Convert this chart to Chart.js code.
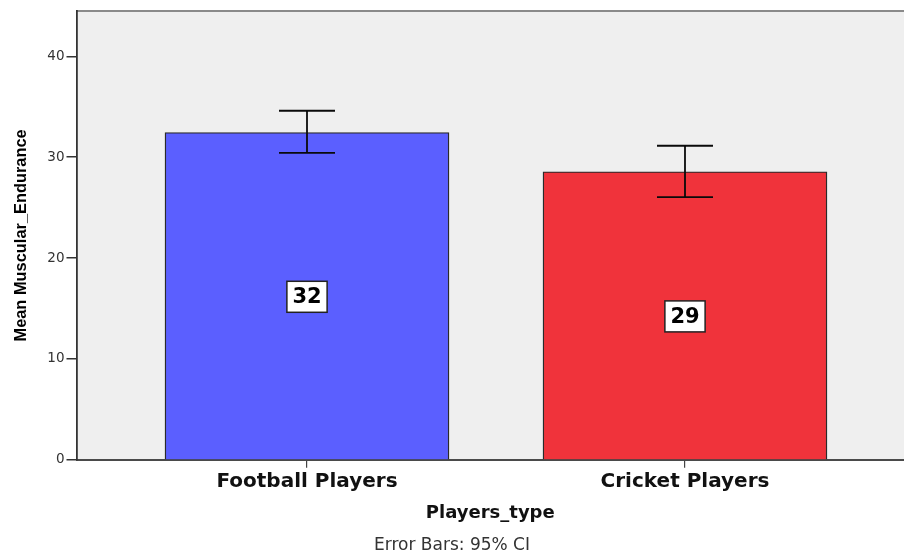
<!DOCTYPE html>
<html>
<head>
<meta charset="utf-8">
<script src="https://cdn.jsdelivr.net/npm/chart.js@4.4.1/dist/chart.umd.min.js"></script>
<style>
  html, body { margin: 0; padding: 0; background: #ffffff; overflow: hidden; }
  #wrap { width: 904px; height: 551px; }
</style>
</head>
<body>
<div id="wrap"><canvas id="c" width="904" height="551"></canvas></div>
<script>
// ---- data ----
const categories = ['Football Players', 'Cricket Players'];
const meanValues = [32.45, 28.56];
const ciLower = [30.44, 26.05];
const ciUpper = [34.61, 31.14];
const barColors = ['#5b5fff', '#f0333b'];
const yTicks = [0, 10, 20, 30, 40];
const yTitle = 'Mean Muscular_Endurance';
const xTitle = 'Players_type';
const footnote = 'Error Bars: 95% CI';

const points = meanValues.map((v, i) => ({ x: i + 1, y: v }));

const plotBg = {
  id: 'plotBg',
  beforeDraw(chart) {
    const { ctx, chartArea: a } = chart;
    ctx.save();
    ctx.fillStyle = '#efefef';
    ctx.fillRect(a.left, a.top, a.right - a.left, a.bottom - a.top);
    ctx.strokeStyle = '#8a8a8a';
    ctx.lineWidth = 2;
    ctx.beginPath();
    ctx.moveTo(a.left, a.top);
    ctx.lineTo(a.right, a.top);
    ctx.stroke();
    ctx.restore();
  }
};

const errorBars = {
  id: 'errorBars',
  afterDatasetsDraw(chart) {
    const { ctx } = chart;
    const ys = chart.scales.y;
    const meta = chart.getDatasetMeta(0);
    ctx.save();
    ctx.strokeStyle = '#0a0a0a';
    ctx.lineWidth = 1.8;
    meta.data.forEach((bar, i) => {
      const x = bar.x;
      const yl = ys.getPixelForValue(ciLower[i]);
      const yu = ys.getPixelForValue(ciUpper[i]);
      const half = 28;
      ctx.beginPath();
      ctx.moveTo(x, yl); ctx.lineTo(x, yu);
      ctx.moveTo(x - half, yl); ctx.lineTo(x + half, yl);
      ctx.moveTo(x - half, yu); ctx.lineTo(x + half, yu);
      ctx.stroke();
    });
    // value labels
    ctx.font = 'bold 21px "DejaVu Sans"';
    ctx.textAlign = 'center';
    ctx.textBaseline = 'middle';
    meta.data.forEach((bar, i) => {
      const txt = String(Math.round(meanValues[i]));
      const cy = (bar.y + bar.base) / 2 + 1;
      const w = ctx.measureText(txt).width + 11;
      const h = 31;
      ctx.fillStyle = '#ffffff';
      ctx.fillRect(bar.x - w / 2, cy - h / 2, w, h);
      ctx.strokeStyle = '#222222';
      ctx.lineWidth = 1.5;
      ctx.strokeRect(bar.x - w / 2, cy - h / 2, w, h);
      ctx.fillStyle = '#000000';
      ctx.fillText(txt, bar.x, cy + 1);
    });
    ctx.restore();
  }
};

new Chart(document.getElementById('c'), {
  type: 'bar',
  data: {
    datasets: [{
      data: points,
      backgroundColor: barColors,
      borderColor: '#2a2a2a',
      borderWidth: 1.4,
      barThickness: 284
    }]
  },
  options: {
    responsive: false,
    devicePixelRatio: 1,
    animation: false,
    layout: { padding: { top: 11, right: 0, left: 0, bottom: 0 } },
    plugins: {
      legend: { display: false },
      tooltip: { enabled: false },
      title: {
        display: true,
        position: 'bottom',
        text: footnote,
        color: '#333333',
        font: { family: '"DejaVu Sans"', size: 17, weight: 'normal', lineHeight: 0.6 },
        padding: { top: 0, bottom: 0 }
      }
    },
    scales: {
      x: {
        type: 'linear',
        min: 0.3902,
        max: 2.5794,
        offset: false,
        afterBuildTicks: (s) => { s.ticks = categories.map((c, i) => ({ value: i + 1 })); },
        afterFit: (s) => { s.height = 81; },
        grid: { offset: false, drawOnChartArea: false, drawTicks: true, tickLength: 8, color: '#444444', lineWidth: 1.2 },
        border: { display: true, color: '#4a4a4a', width: 2 },
        ticks: {
          autoSkip: false, maxRotation: 0, minRotation: 0, padding: 2,
          color: '#111111',
          font: { family: '"DejaVu Sans"', size: 20, weight: 'bold' },
          callback: (v) => categories[v - 1] || ''
        },
        title: {
          display: true, text: xTitle, color: '#111111',
          font: { family: '"DejaVu Sans"', size: 18, weight: 'bold' },
          padding: { top: 0, bottom: 17 }
        }
      },
      y: {
        min: 0,
        max: 44.5,
        afterBuildTicks: (s) => { s.ticks = yTicks.map(v => ({ value: v })); },
        afterFit: (s) => { s.width = 76.5; },
        grid: { drawOnChartArea: false, drawTicks: true, tickLength: 10, color: '#333333', lineWidth: 1.5 },
        border: { display: true, color: '#333333', width: 1.8 },
        ticks: {
          padding: 2, color: '#333333',
          font: { family: '"DejaVu Sans"', size: 13.5 }
        },
        title: {
          display: true, text: yTitle, color: '#000000',
          font: { family: '"Liberation Sans"', size: 16.4, weight: 'bold' },
          padding: { top: 12, bottom: 0 }
        }
      }
    }
  },
  plugins: [plotBg, errorBars]
});
</script>
</body>
</html>
